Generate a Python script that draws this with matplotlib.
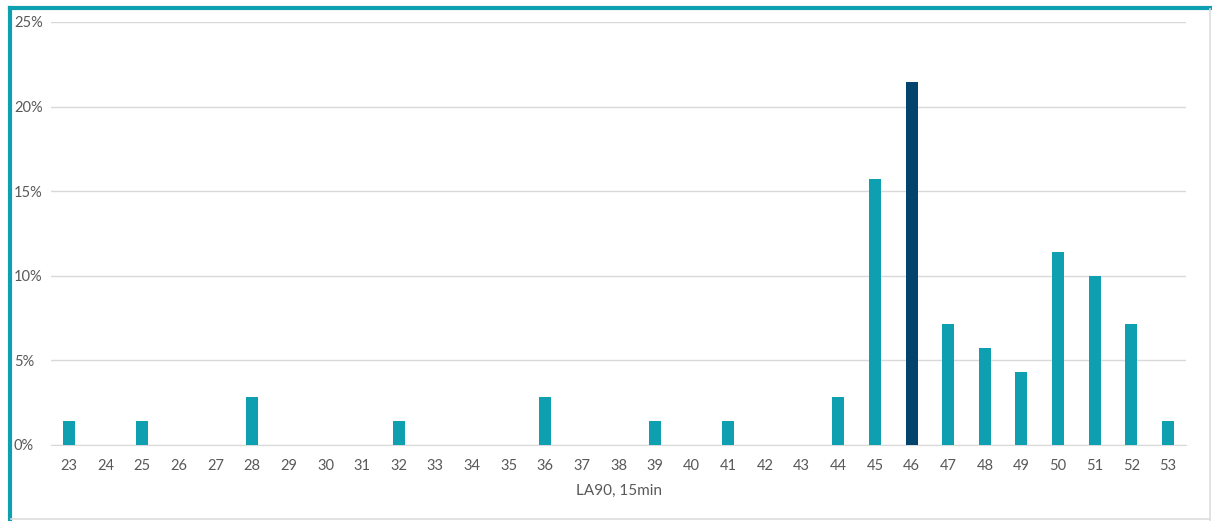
import matplotlib
matplotlib.use("Agg")
import matplotlib.pyplot as plt
from matplotlib.ticker import FuncFormatter, MultipleLocator
from matplotlib.lines import Line2D

categories = list(range(23, 54))
values = [1.43, 0, 1.43, 0, 0, 2.86, 0, 0, 0, 1.43, 0, 0, 0, 2.86, 0, 0, 1.43, 0, 1.43, 0, 0,
          2.86, 15.71, 21.43, 7.14, 5.71, 4.29, 11.43, 10.0, 7.14, 1.43]
highlight = 46
x_label = "LA90, 15min"

teal = "#0E9FB1"
dark = "#03446F"
text_c = "#595959"

plt.rcParams['font.family'] = ['Lato', 'DejaVu Sans']

fig = plt.figure(figsize=(12.12, 5.21), dpi=100)
ax = fig.add_axes([50.7/1212, 1-445/521, (1186.3-50.7)/1212, (445-22)/521])

colors = [dark if c == highlight else teal for c in categories]
pos = list(range(len(categories)))
ax.bar(pos, values, width=0.33, color=colors, zorder=3)
ax.set_xlim(-0.5, len(categories) - 0.5)
ax.set_ylim(0, 25)
ax.yaxis.set_major_locator(MultipleLocator(5))
ax.yaxis.set_major_formatter(FuncFormatter(lambda v, p: f"{v:.0f}%"))
ax.set_xticks(pos)
ax.set_xticklabels([str(c) for c in categories])
ax.grid(axis='y', color="#D9D9D9", linewidth=1, zorder=0)
for s in ['top', 'right', 'left']:
    ax.spines[s].set_visible(False)
ax.spines['bottom'].set_color("#D9D9D9")
ax.tick_params(axis='both', length=0, colors=text_c, labelsize=10.5)
ax.tick_params(axis='x', pad=10)
for lab in ax.get_yticklabels():
    lab.set_horizontalalignment('left')
ax.yaxis.set_tick_params(pad=26.5)
ax.set_xlabel(x_label, color=text_c, fontsize=11, labelpad=8)

# frame
fig.add_artist(Line2D([9.5/1212, 1], [1-7.5/521, 1-7.5/521], color=teal, linewidth=3, transform=fig.transFigure))
fig.add_artist(Line2D([9.5/1212, 9.5/1212], [0, 1-7.5/521], color=teal, linewidth=3, transform=fig.transFigure))
fig.add_artist(Line2D([1210/1212, 1210/1212], [0, 1-9/521], color="#DDDDDD", linewidth=1.2, transform=fig.transFigure))
fig.add_artist(Line2D([11/1212, 1210/1212], [1-518.5/521, 1-518.5/521], color="#DDDDDD", linewidth=1.2, transform=fig.transFigure))

fig.savefig("out.png", dpi=100)
